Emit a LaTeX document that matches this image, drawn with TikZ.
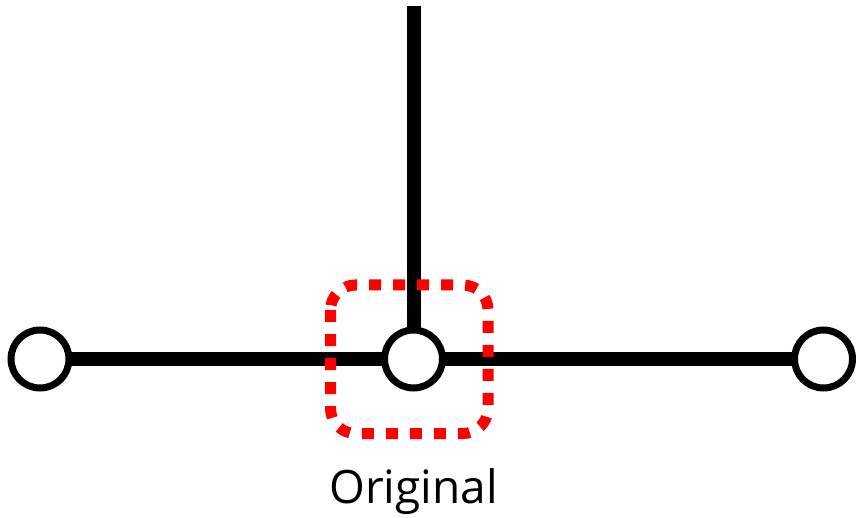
\documentclass[tikz,border=0pt]{standalone}
\usepackage{fontspec}
\setmainfont{Open Sans}
\usetikzlibrary{backgrounds}
\begin{document}
\begin{tikzpicture}[x=1pt,y=-1pt,
  wire/.style={line width=14pt},
  port/.style={circle, draw, line width=7pt, fill=white, minimum size=58pt, inner sep=0pt},
  zone/.style={draw=red, line width=11pt, dash pattern=on 12pt off 12pt, rounded corners=25pt},
  lbl/.style={font=\fontsize{46}{56}\selectfont, inner sep=0pt, anchor=base}]
\useasboundingbox (0,0) rectangle (856,518);
\coordinate (top) at (413.5,6);
\coordinate (zs) at (330.5,285);
\coordinate (ze) at (488,433.5);
\path (40,359) node[port] (L) {} (413.5,359) node[port] (C) {} (823.5,359) node[port] (R) {};
\begin{scope}[on background layer]
\draw[wire] (L.center) -- (R.center);
\draw[wire] (top) -- (C.center);
\end{scope}
\draw[zone] (zs) rectangle (ze);
\node[lbl] (t) at (413.5,503) {Original};
\end{tikzpicture}
\end{document}
